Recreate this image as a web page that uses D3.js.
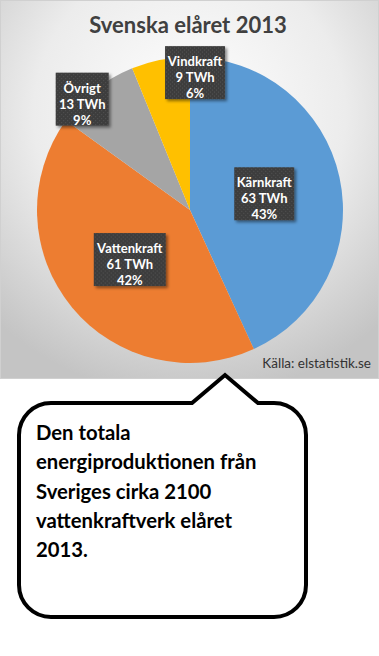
<!DOCTYPE html>
<html>
<head>
<meta charset="utf-8">
<script src="https://cdn.jsdelivr.net/npm/d3@7.9.0/dist/d3.min.js"></script>
<style>
  html, body { margin: 0; padding: 0; background: #fff; }
  svg { display: block; font-family: Lato, "Open Sans", sans-serif; }
</style>
</head>
<body>
<svg width="379" height="656"></svg>
<script>
// data
const categories = ['Kärnkraft', 'Vattenkraft', 'Övrigt', 'Vindkraft'];
const values = [63, 61, 13, 9];
const percents = ['43%', '42%', '9%', '6%'];
const colorList = ['#5b9bd5', '#ed7d31', '#a5a5a5', '#ffc000'];
const bubbleLines = ['Den totala', 'energiproduktionen från', 'Sveriges cirka 2100', 'vattenkraftverk elåret', '2013.'];

const svg = d3.select('svg');
const W = 379, chartH = 378;
const cx = 190, cy = 210, R = 153;

const defs = svg.append('defs');
const grad = defs.append('radialGradient').attr('id', 'bg')
  .attr('cx', '50%').attr('cy', '30%').attr('r', '75%');
grad.append('stop').attr('offset', '0%').attr('stop-color', '#ffffff');
grad.append('stop').attr('offset', '55%').attr('stop-color', '#ececec');
grad.append('stop').attr('offset', '100%').attr('stop-color', '#c4c4c4');

const pat = defs.append('pattern').attr('id', 'dots')
  .attr('width', 4).attr('height', 4).attr('patternUnits', 'userSpaceOnUse');
pat.append('rect').attr('width', 4).attr('height', 4).attr('fill', '#3d3d3d');
pat.append('rect').attr('x', 1).attr('y', 1).attr('width', 1).attr('height', 1).attr('fill', '#555');
pat.append('rect').attr('x', 3).attr('y', 3).attr('width', 1).attr('height', 1).attr('fill', '#555');

const shadow = defs.append('filter').attr('id', 'shadow')
  .attr('x', '-20%').attr('y', '-20%').attr('width', '150%').attr('height', '150%');
shadow.append('feDropShadow').attr('dx', 2).attr('dy', 2).attr('stdDeviation', 1.5)
  .attr('flood-color', '#000').attr('flood-opacity', 0.45);

// chart background
svg.append('rect').attr('x', 0.5).attr('y', 0.5).attr('width', W - 1).attr('height', chartH)
  .attr('fill', 'url(#bg)').attr('stroke', '#d0d0d0');

svg.append('text').attr('x', cx - 2).attr('y', 33).attr('text-anchor', 'middle')
  .attr('font-size', 22).attr('font-weight', 'bold').attr('fill', '#404040')
  .text('Svenska elåret 2013');

const data = categories.map((c, i) => ({ label: c, value: values[i], pct: percents[i] }));
const pie = d3.pie().value(d => d.value).sort(null);
const arcs = pie(data);
const color = d3.scaleOrdinal().domain(categories).range(colorList);
const arc = d3.arc().innerRadius(0).outerRadius(R);

const g = svg.append('g').attr('transform', `translate(${cx},${cy})`);
g.selectAll('path').data(arcs).join('path')
  .attr('d', arc).attr('fill', d => color(d.data.label));

// label placement: centroid at some radius, plus best-fit nudge
const labelRadius = [76, 78, 150, 140];
const nudge = [[0, 0], [0, 0], [-15, 7], [32, 0]];
const boxW = [60, 72, 53, 60], boxH = 53;

arcs.forEach((d, i) => {
  const la = d3.arc().innerRadius(labelRadius[i]).outerRadius(labelRadius[i]);
  const [x, y] = la.centroid(d);
  const px = x + nudge[i][0], py = y + nudge[i][1];
  const lg = g.append('g').attr('transform', `translate(${px},${py})`);
  lg.append('rect').attr('x', -boxW[i] / 2).attr('y', -boxH / 2)
    .attr('width', boxW[i]).attr('height', boxH)
    .attr('fill', 'url(#dots)').attr('filter', 'url(#shadow)');
  const lines = [d.data.label, d.data.value + ' TWh', d.data.pct];
  lg.selectAll('text.l').data(lines).join('text')
    .attr('text-anchor', 'middle').attr('x', 0)
    .attr('y', (t, j) => -11 + j * 16 + 4.5)
    .attr('font-size', 13).attr('font-weight', 'bold').attr('fill', '#fff')
    .text(t => t);
});

svg.append('text').attr('x', 371).attr('y', 368).attr('text-anchor', 'end')
  .attr('font-size', 13.5).attr('fill', '#333').text('Källa: elstatistik.se');

// speech bubble
const bx0 = 19, bx1 = 306, by0 = 403, by1 = 617, rr = 32;
const tipL = 192, tipR = 258, tipX = 225, tipY = 375;
const p = d3.path();
p.moveTo(bx0 + rr, by0);
p.lineTo(tipL, by0);
p.lineTo(tipX, tipY);
p.lineTo(tipR, by0);
p.lineTo(bx1 - rr, by0);
p.arcTo(bx1, by0, bx1, by0 + rr, rr);
p.lineTo(bx1, by1 - rr);
p.arcTo(bx1, by1, bx1 - rr, by1, rr);
p.lineTo(bx0 + rr, by1);
p.arcTo(bx0, by1, bx0, by1 - rr, rr);
p.lineTo(bx0, by0 + rr);
p.arcTo(bx0, by0, bx0 + rr, by0, rr);
p.closePath();
svg.append('path').attr('d', p.toString()).attr('fill', '#fff')
  .attr('stroke', '#000').attr('stroke-width', 4).attr('stroke-linejoin', 'miter');

svg.selectAll('text.b').data(bubbleLines).join('text')
  .attr('class', 'b').attr('x', 36).attr('y', (t, i) => 440 + i * 29.3)
  .attr('font-size', 20.3).attr('font-weight', 'bold').attr('fill', '#000')
  .text(t => t);
</script>
</body>
</html>
